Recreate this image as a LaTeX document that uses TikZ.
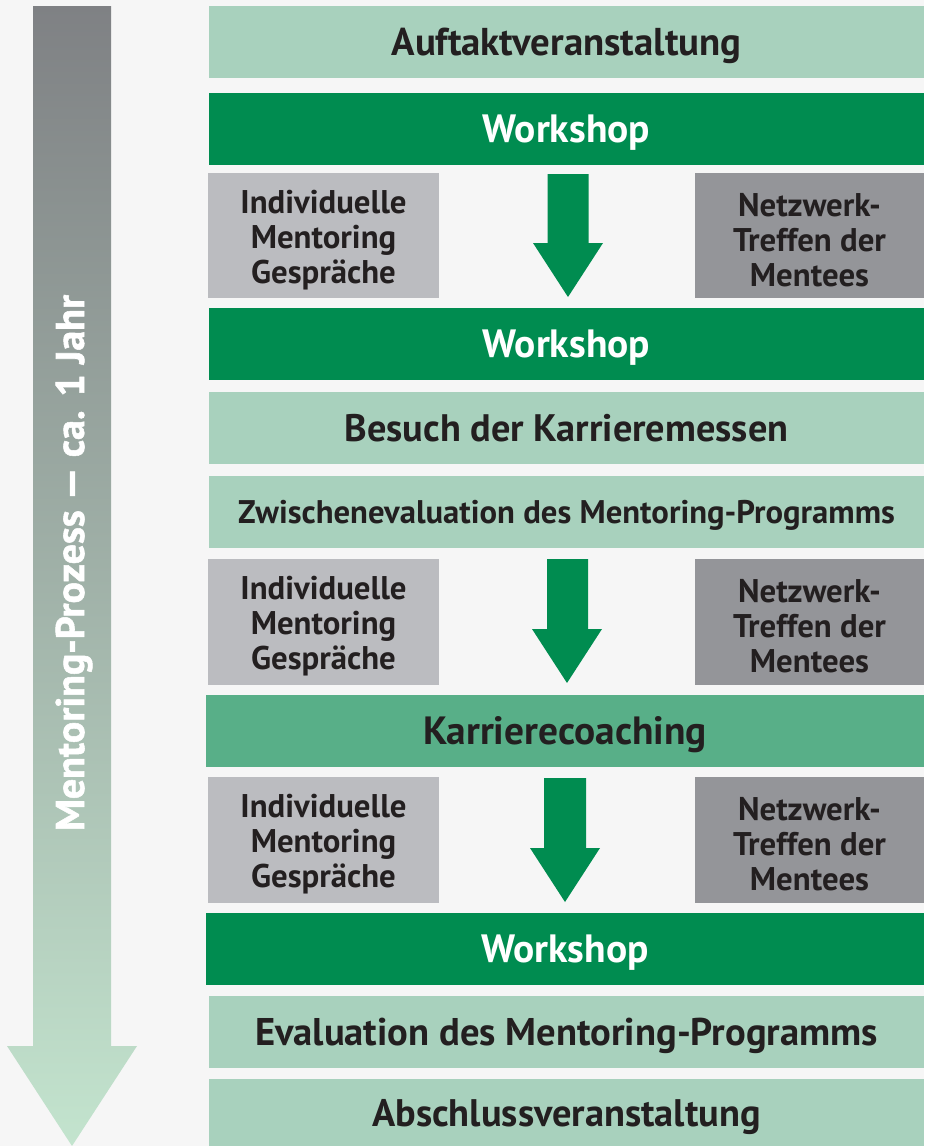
\documentclass[tikz,border=0pt]{standalone}
\usepackage{fontspec}
\setmainfont{PT Sans}
\newfontfamily\heavyfont{PT Sans}[UprightFont={* Bold}, FakeBold=1.3, Ligatures=TeX]
\newcommand\liftline{\rule{0pt}{32pt}}
\definecolor{lgreen}{HTML}{A8D1BD}
\definecolor{dgreen}{HTML}{008C50}
\definecolor{mgreen}{HTML}{58AF88}
\definecolor{lgray}{HTML}{BBBCC0}
\definecolor{dgray}{HTML}{949599}
\definecolor{txt}{HTML}{231F20}
\definecolor{bg}{HTML}{F6F6F6}
\definecolor{atop}{HTML}{7F8184}
\definecolor{amid}{HTML}{A0B1A8}
\definecolor{abot}{HTML}{C3E4CE}
\begin{document}
\begin{tikzpicture}[x=1pt,y=-1pt,
  bar/.style={inner sep=0pt, minimum height=72pt, minimum width=715pt, text height=27pt, text depth=0pt, text=txt, font=\bfseries\fontsize{38.5}{42}\selectfont},
  wsbar/.style={bar, fill=dgreen, text=white, font=\bfseries\fontsize{39.5}{42}\selectfont},
  side/.style={inner sep=0pt, minimum height=126pt, align=center, text=txt, font=\bfseries\fontsize{32.8}{35}\selectfont},
  mentor/.style={side, fill=lgray, minimum width=231pt},
  netz/.style={side, fill=dgray, minimum width=229pt},
  flow/.style={fill=dgreen}]
\useasboundingbox (0,0) rectangle (924,1146);
\fill[bg] (0,0) rectangle (924,1146);
% timeline arrow
\shade[top color=atop, bottom color=abot, middle color=amid]
  (33,6) -- (111,6) -- (111,1046) -- (137,1046) -- (72,1146) -- (7,1046) -- (33,1046) -- cycle;
\node[rotate=90, text=white, font=\heavyfont\fontsize{40}{44}\selectfont] (zeit) at (74,563) {Mentoring-Prozess — ca. 1 Jahr};
% bars
\node[bar, fill=lgreen, font=\bfseries\fontsize{38.8}{42}\selectfont] (auftakt) at (566.5,42) {Auftaktveranstaltung};
\node[wsbar] (ws1) at (566.5,129) {Workshop};
\node[mentor, minimum height=125pt] (ind1) at (323.5,235.5) {\liftline Individuelle\\Mentoring\\Gespräche};
\node[netz, minimum height=125pt] (net1) at (809.5,235.5) {\liftline Netzwerk-\\Treffen der\\Mentees};
\node[wsbar] (ws2) at (566.5,344) {Workshop};
\node[bar, fill=lgreen, font=\bfseries\fontsize{38.3}{42}\selectfont] (besuch) at (566.5,428) {Besuch der Karrieremessen};
\node[bar, fill=lgreen, text height=23pt, font=\bfseries\fontsize{32.7}{36}\selectfont] (zwischen) at (566.5,512) {Zwischenevaluation des Mentoring-Programms};
\node[mentor] (ind2) at (323.5,622) {\liftline Individuelle\\Mentoring\\Gespräche};
\node[netz] (net2) at (809.5,622) {\liftline Netzwerk-\\Treffen der\\Mentees};
\node[bar, fill=mgreen, minimum width=718pt, font=\bfseries\fontsize{39.4}{42}\selectfont] (karriere) at (565,731) {Karrierecoaching};
\node[mentor] (ind3) at (323.5,840) {\liftline Individuelle\\Mentoring\\Gespräche};
\node[netz] (net3) at (809.5,840) {\liftline Netzwerk-\\Treffen der\\Mentees};
\node[wsbar, minimum width=718pt] (ws3) at (565,949) {Workshop};
\node[bar, fill=lgreen, font=\bfseries\fontsize{38.6}{42}\selectfont] (eval) at (566.5,1032) {Evaluation des Mentoring-Programms};
\node[bar, fill=lgreen, minimum height=67pt, font=\bfseries\fontsize{38.4}{42}\selectfont] (absch) at (566.5,1112.5) {Abschlussveranstaltung};
% flow arrows
\fill[flow] (547.5,174) -- (588.5,174) -- (588.5,243) -- (603,243) -- (568,297) -- (533,243) -- (547.5,243) -- cycle;
\fill[flow] (547,559) -- (588,559) -- (588,629) -- (602,629) -- (567,683) -- (532,629) -- (547,629) -- cycle;
\fill[flow] (544,778) -- (586,778) -- (586,848) -- (600,848) -- (565,902) -- (530,848) -- (544,848) -- cycle;
\end{tikzpicture}
\end{document}
